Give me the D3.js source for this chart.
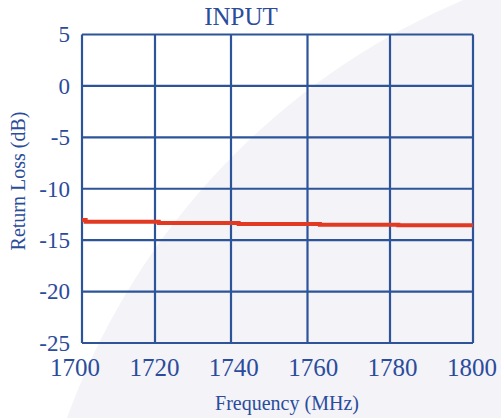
<!DOCTYPE html>
<html>
<head>
<meta charset="utf-8">
<script src="https://cdn.jsdelivr.net/npm/d3@7"></script>
<style>
  html, body { margin: 0; padding: 0; background: #fff; }
  svg { display: block; }
  svg text { font-family: "Liberation Serif", "Times New Roman", Times, serif; }
</style>
</head>
<body>
<svg id="chart"></svg>
<script>
'use strict';

// data
const freqTicks  = [ 1700, 1720, 1740, 1760, 1780, 1800 ],
      dbTicks    = [ 5, 0, -5, -10, -15, -20, -25 ],
      freq       = [ 1700, 1701, 1721, 1742, 1763, 1782, 1800 ],
      returnLoss = [ -13.05, -13.2, -13.33, -13.43, -13.5, -13.56, -13.56 ];

const param = {
  width:  501,
  height: 418,
  plot:   { left: 82, right: 473, top: 34.5, bottom: 343 },
  title: {
    chart: 'INPUT',
    xaxis: 'Frequency (MHz)',
    yaxis: 'Return Loss (dB)'
  }
};

const blue = '#2d5499',
      text = '#2b4c9b',
      red  = '#e23a22';

const svg = d3.select( '#chart' )
              .attr( 'width', param.width )
              .attr( 'height', param.height );

// background with the pale sweep
svg.append( 'rect' )
    .attr( 'width', param.width )
    .attr( 'height', param.height )
    .attr( 'fill', '#ffffff' );
svg.append( 'circle' )
    .attr( 'cx', 744 )
    .attr( 'cy', 663 )
    .attr( 'r', 720 )
    .attr( 'fill', '#f3f3f8' );

// scales (the scanned grid is not evenly spaced)
const p = param.plot,
      x = d3.scaleLinear()
            .domain( freqTicks )
            .range( [ p.left, 155, 231, 307.5, 390, p.right ] ),
      xLabel = d3.scaleLinear()
            .domain( [ freqTicks[0], freqTicks[ freqTicks.length - 1 ] ] )
            .range( [ 75, 472 ] ),
      y = d3.scaleLinear()
            .domain( [ -25, 5 ] )
            .range( [ p.bottom, p.top ] );

// grid
const grid = svg.append( 'g' ).attr( 'class', 'grid' );
grid.selectAll( '.vline' )
    .data( freqTicks )
  .enter().append( 'line' )
    .attr( 'x1', (d) => x( d ) )
    .attr( 'x2', (d) => x( d ) )
    .attr( 'y1', p.top )
    .attr( 'y2', p.bottom );
grid.selectAll( '.hline' )
    .data( dbTicks )
  .enter().append( 'line' )
    .attr( 'x1', p.left )
    .attr( 'x2', p.right )
    .attr( 'y1', (d) => y( d ) )
    .attr( 'y2', (d) => y( d ) );
grid.selectAll( 'line' )
    .attr( 'stroke', blue )
    .attr( 'stroke-width', 2.2 );

// trace
const series = freq.map( (f, i) => ({ f: f, v: returnLoss[i] }) );
svg.append( 'path' )
    .datum( series )
    .attr( 'fill', 'none' )
    .attr( 'stroke', red )
    .attr( 'stroke-width', 4 )
    .attr( 'd', d3.line()
                  .curve( d3.curveStepAfter )
                  .x( (d) => x( d.f ) )
                  .y( (d) => y( d.v ) ) );

// y tick labels
svg.append( 'g' )
    .selectAll( 'text' )
    .data( dbTicks )
  .enter().append( 'text' )
    .attr( 'x', 70 )
    .attr( 'y', (d) => y( d ) )
    .attr( 'dy', '0.34em' )
    .attr( 'text-anchor', 'end' )
    .attr( 'font-size', 23 )
    .attr( 'fill', text )
    .text( (d) => d );

// x tick labels
svg.append( 'g' )
    .selectAll( 'text' )
    .data( freqTicks )
  .enter().append( 'text' )
    .attr( 'x', (d) => xLabel( d ) )
    .attr( 'y', 376 )
    .attr( 'text-anchor', 'middle' )
    .attr( 'font-size', 25 )
    .attr( 'fill', text )
    .text( (d) => d );

// titles
svg.append( 'text' )
    .attr( 'x', 241 )
    .attr( 'y', 25 )
    .attr( 'text-anchor', 'middle' )
    .attr( 'font-size', 25 )
    .attr( 'fill', text )
    .text( param.title.chart );

svg.append( 'text' )
    .attr( 'x', 287 )
    .attr( 'y', 410 )
    .attr( 'text-anchor', 'middle' )
    .attr( 'font-size', 20 )
    .attr( 'fill', text )
    .text( param.title.xaxis );

svg.append( 'text' )
    .attr( 'transform', 'translate( 25 181 ) rotate(-90)' )
    .attr( 'text-anchor', 'middle' )
    .attr( 'font-size', 20 )
    .attr( 'fill', text )
    .text( param.title.yaxis );
</script>
</body>
</html>
